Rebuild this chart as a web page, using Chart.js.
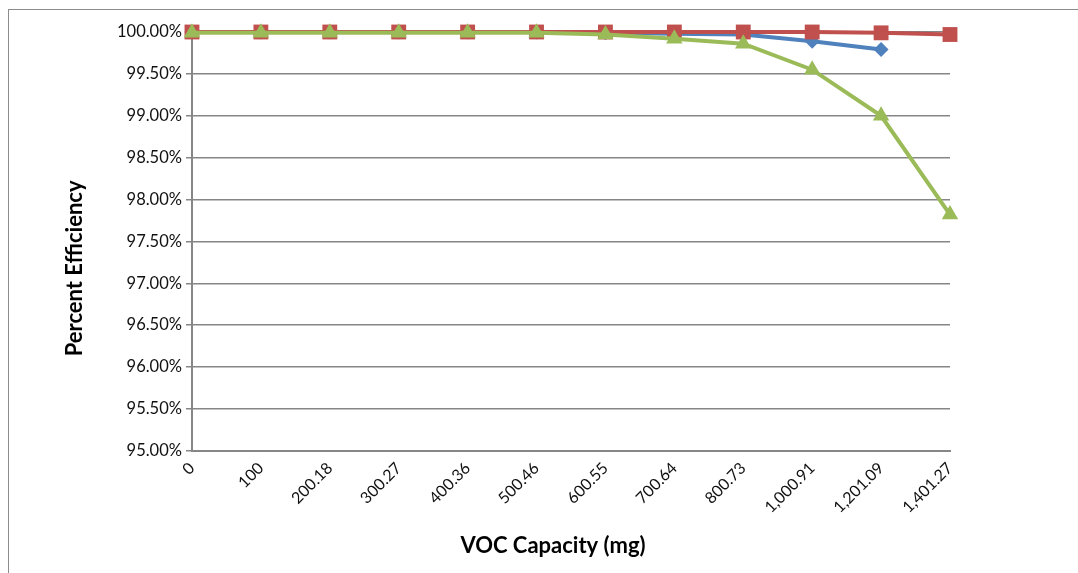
<!DOCTYPE html>
<html>
<head>
<meta charset="utf-8">
<script src="https://cdn.jsdelivr.net/npm/chart.js@4"></script>
<style>
  body { margin: 0; background: #fff; overflow: hidden; }
  #frame { position: absolute; left: 8px; top: 9px; width: 1100px; height: 600px; border: 1px solid #8c8c8c; }
  #wrap { position: absolute; left: 0; top: 0; width: 1078px; height: 573px; }
</style>
</head>
<body>
<div id="frame"></div>
<div id="wrap"><canvas id="myChart"></canvas></div>
<script>
// x categories (VOC capacity, mg)
const capacity = ['0', '100', '200.18', '300.27', '400.36', '500.46', '600.55', '700.64', '800.73', '1,000.91', '1,201.09', '1,401.27'];

// percent efficiency per series
const blue = [100, 100, 100, 100, 100, 100, 99.99, 99.98, 99.97, 99.89, 99.79, null];
const red = [100, 100, 100, 100, 100, 100, 100, 100, 100, 100, 99.99, 99.97];
const green = [99.99, 99.99, 99.99, 99.99, 99.99, 99.99, 99.97, 99.92, 99.86, 99.55, 99.00, 97.82];

const xTitle = 'VOC Capacity (mg)';
const yTitle = 'Percent Efficiency';

// axis titles sit a bit off-centre in the original, so draw them by hand
const axisTitles = {
  id: 'axisTitles',
  afterDraw(chart) {
    const c = chart.ctx;
    const area = chart.chartArea;
    c.save();
    c.fillStyle = '#000';
    c.font = 'bold 22px Lato';
    c.textAlign = 'center';
    c.textBaseline = 'middle';
    c.fillText(xTitle, (area.left + area.right) / 2 - 18, 546);
    c.translate(75, (area.top + area.bottom) / 2 + 27);
    c.rotate(-Math.PI / 2);
    c.fillText(yTitle, 0, 0);
    c.restore();
  }
};

const ctx = document.getElementById('myChart');

const myChart = new Chart(ctx, {
  type: 'line',
  data: {
    labels: capacity,
    datasets: [{
      label: 'Series1',
      data: blue,
      borderColor: '#4f81bd',
      backgroundColor: '#4f81bd',
      borderWidth: 4,
      pointStyle: 'rectRot',
      pointRadius: 7.5,
      pointBorderWidth: 0,
      tension: 0,
      clip: false,
      order: 3,
    }, {
      label: 'Series2',
      data: red,
      borderColor: '#c0504d',
      backgroundColor: '#c0504d',
      borderWidth: 4,
      pointStyle: 'rect',
      pointRadius: 10.5,
      pointBorderWidth: 0,
      tension: 0,
      clip: false,
      order: 2,
    }, {
      label: 'Series3',
      data: green,
      borderColor: '#9bbb59',
      backgroundColor: '#9bbb59',
      borderWidth: 4,
      pointStyle: 'triangle',
      pointRadius: 9.5,
      pointBorderWidth: 0,
      tension: 0,
      clip: false,
      order: 1,
    }]
  },
  options: {
    responsive: true,
    maintainAspectRatio: false,
    animation: false,
    layout: { padding: { left: 113, top: 32, right: 128, bottom: 48 } },
    plugins: {
      legend: { display: false },
      tooltip: { enabled: false },
    },
    scales: {
      x: {
        offset: false,
        grid: { display: false, drawTicks: false },
        border: { color: '#868686', width: 2 },
        ticks: {
          minRotation: 45,
          maxRotation: 45,
          padding: 8,
          color: '#111',
          font: { family: 'Lato', size: 16 },
        },
      },
      y: {
        min: 95,
        max: 100,
        grid: { color: '#868686', lineWidth: 1.5, tickLength: 6 },
        border: { color: '#868686', width: 2 },
        ticks: {
          stepSize: 0.5,
          padding: 4,
          color: '#111',
          font: { family: 'Lato', size: 16.5 },
          callback: (v) => v.toFixed(2) + '%',
        },
      }
    }
  },
  plugins: [axisTitles]
});
</script>
</body>
</html>
